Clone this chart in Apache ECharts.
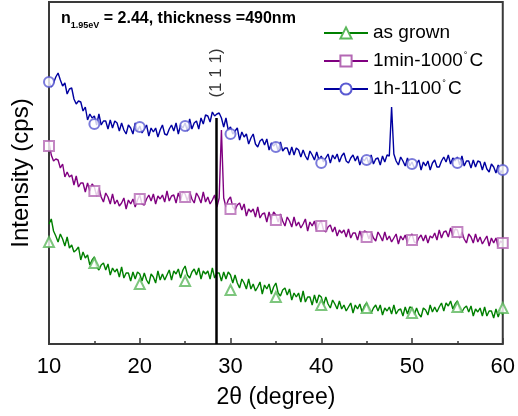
<!DOCTYPE html>
<html>
<head>
<meta charset="utf-8">
<script src="https://cdn.jsdelivr.net/npm/echarts@6/dist/echarts.min.js"></script>
<style>html,body{margin:0;padding:0;background:#fff}#c{width:518px;height:416px}</style>
</head>
<body>
<div id="c"></div>
<script>
// x grid: 10 to 60 degrees, step 0.25
const xStart = 10, xStep = 0.25;
const seriesNames = ['as grown', '1min-1000°C', '1h-1100°C'];
const xTicks = [10, 20, 30, 40, 50, 60];

const asGrown = [
120,125,113,108, 102,110,105,98, 107,96,99,92, 94,97,84,92, 86,89,79,84,
87,77,74,79, 81,74,80,69, 76,72,75,67, 77,66,71,71, 63,72,65,72,
70,63,71,64, 60,70,67,61, 73,64,70,64, 69,74,64,73, 70,75,66,74,
78,69,66,72, 75,69,76,65, 73,70,73,65, 76,66,71,71, 63,72,65,72,
69,61,69,61, 56,65,61,55, 65,55,60,53, 57,62,50,59, 55,60,50,57,
61,51,48,54, 56,49,55,44, 51,47,51,42, 53,42,47,47, 39,49,41,49,
47,39,47,40, 36,44,40,35, 43,35,39,33, 37,41,31,39, 35,40,32,38,
41,33,31,36, 39,33,39,29, 36,33,37,30, 39,30,34,35, 28,37,30,37,
36,29,36,30, 27,36,34,29, 39,32,37,32, 37,41,33,41, 38,43,35,40,
43,34,32,36, 38,32,38,28, 35,32,36,28, 37,28,33,33, 26,35,27,34,
29];

const min1000 = [
202,189,183,185, 184,176,180,167, 172,167,169,159, 168,157,161,161, 152,161,153,160,
157,148,156,147, 142,151,147,140, 150,140,144,138, 141,146,135,144, 140,145,137,144,
149,140,139,145, 149,143,150,140, 148,145,149,142, 153,143,148,149, 141,151,144,152,
150,143,152,145, 141,151,147,141, 152,142,147,140, 144,149,137,146, 214,146,137,144,
147,137,134,139, 141,134,140,128, 135,132,135,127, 137,126,130,131, 122,132,124,132,
129,122,130,123, 118,127,123,117, 127,118,122,116, 120,125,113,122, 118,123,113,120,
123,114,112,117, 119,112,117,108, 114,111,114,107, 115,106,111,111, 104,113,106,113,
112,105,112,106, 103,112,108,103, 112,104,108,102, 106,110,100,108, 104,109,101,107,
110,102,101,106, 109,103,109,101, 108,106,111,104, 114,106,112,113, 107,116,108,115,
114,106,112,105, 101,110,107,101, 110,102,107,100, 104,108,98,106, 101,106,97,103,
101];

const h1100 = [
262,257,261,267, 271,264,258,261, 250,255,256,245, 240,243,242,233, 237,224,230,226,
228,219,230,219, 223,223,215,224, 216,223,221,213, 221,214,210,219, 216,210,221,213,
218,211,215,219, 208,216,212,216, 207,214,219,210, 209,215,219,213, 221,210,219,216,
221,213,225,215, 221,223,215,226, 220,229,228,222, 232,228,230,231, 226,217,226,214,
217,210,213,216, 204,212,207,210, 200,206,210,200, 197,203,205,199, 205,194,201,198,
201,193,202,193, 196,196,189,197, 189,196,194,187, 194,188,184,193, 189,184,192,184,
188,182,186,190, 181,189,185,190, 182,188,191,183, 181,186,189,183, 188,179,186,183,
187,180,189,180, 185,186,179,188, 182,189,188,237, 190,183,179,187, 183,178,186,178,
182,176,180,184, 174,182,178,183, 174,181,184,177, 177,183,187,182, 189,180,186,183,
187,179,188,178, 183,183,176,184, 177,183,182,174, 182,175,172,180, 177,171,179,171,
174];

// marker positions (every 5 degrees)
const markerX = [10, 15, 20, 25, 30, 35, 40, 45, 50, 55, 60];
const asGrownMarks = [102, 81, 60, 63, 54, 47, 39, 36, 31, 37, 36];
const min1000Marks = [198, 153, 145, 147, 135, 124, 118, 107, 104, 112, 101];
const h1100Marks = [262, 220, 217, 218, 210, 197, 181, 184, 180, 181, 174];

// (111) reference line
const peak111X = 28.4;
const peak111Top = 226;
const peak111LabelY = 269;

const lineColors = ['#008000', '#800080', '#0000a0'];
const markColors = ['#5cb85c', '#b468b4', '#5a5ad2'];
const symbols = ['emptyTriangle', 'emptyRect', 'emptyCircle'];

function toPairs(arr) { return arr.map((v, i) => [xStart + i * xStep, v]); }
function markPairs(arr) { return arr.map((v, i) => [markerX[i], v]); }

const lines = [asGrown, min1000, h1100];
const marks = [asGrownMarks, min1000Marks, h1100Marks];
const series = [];
for (let k = 0; k < 3; k++) {
  series.push({
    name: seriesNames[k], type: 'line', data: toPairs(lines[k]),
    showSymbol: false, symbol: symbols[k], symbolSize: 10,
    lineStyle: { color: lineColors[k], width: 1.4 },
    itemStyle: { color: markColors[k] },
    animation: false, z: 2
  });
  series.push({
    type: 'scatter', data: markPairs(marks[k]), symbol: symbols[k], symbolSize: 10,
    itemStyle: { color: markColors[k], borderWidth: 1.3 }, animation: false, z: 3, silent: true
  });
}
series.push({
  type: 'scatter', data: [[peak111X, peak111LabelY]], symbolSize: 0, animation: false, silent: true,
  label: { show: true, formatter: '(1 1 1)', rotate: 90, position: 'inside', offset: [2, 0],
    fontFamily: 'Liberation Sans, Arial', fontSize: 17, color: '#000' },
  markLine: { silent: true, symbol: 'none', animation: false, label: { show: false },
    lineStyle: { color: '#000', width: 2.5, type: 'solid' },
    data: [[{ coord: [peak111X, 0] }, { coord: [peak111X, peak111Top] }]] },
  z: 5
});

const chart = echarts.init(document.getElementById('c'), null, { renderer: 'canvas' });
chart.setOption({
  animation: false,
  textStyle: { fontFamily: 'Liberation Sans, Arial' },
  grid: { left: 49, right: 15, top: 2, bottom: 72, show: true, borderColor: '#3a3a3a', borderWidth: 2 },
  title: {
    left: 56, top: 3,
    text: '{b|n}{s|1.95eV}{b| = 2.44, thickness =490nm}',
    textStyle: { rich: {
      b: { fontFamily: 'Liberation Sans, Arial', fontWeight: 'bold', fontSize: 16, color: '#000', height: 22 },
      s: { fontFamily: 'Liberation Sans, Arial', fontWeight: 'bold', fontSize: 9, color: '#000', verticalAlign: 'bottom', padding: [8, 0, 0, 0] }
    } }
  },
  legend: {
    data: seriesNames, orient: 'vertical', left: 318, top: 18,
    itemWidth: 44, itemHeight: 14, itemGap: 8,
    textStyle: { fontFamily: 'Liberation Sans, Arial', fontSize: 19, color: '#000', lineHeight: 20,
      rich: { d: { fontFamily: 'Liberation Sans, Arial', fontSize: 9, color: '#000', verticalAlign: 'top', padding: [0, 2, 10, 1] } } },
    formatter: function (n) { return n.replace('°C', '{d|°}C'); },
    selectedMode: false
  },
  xAxis: {
    type: 'value', min: 10, max: 60, interval: 10,
    axisLine: { show: false },
    axisTick: { show: true, inside: true, length: 6, lineStyle: { color: '#3a3a3a', width: 1.5 } },
    minorTick: { show: true, splitNumber: 2, length: 3, lineStyle: { color: '#3a3a3a', width: 1.5 } },
    splitLine: { show: false },
    axisLabel: { fontSize: 22, color: '#000', margin: 12, fontFamily: 'Liberation Sans, Arial' },
    name: '2θ (degree)', nameLocation: 'middle', nameGap: 42,
    nameTextStyle: { fontSize: 23, color: '#000', fontFamily: 'Liberation Sans, Arial' }
  },
  yAxis: {
    type: 'value', min: 0, max: 342,
    axisLine: { show: false }, axisTick: { show: false }, axisLabel: { show: false }, splitLine: { show: false },
    name: 'Intensity (cps)', nameLocation: 'middle', nameGap: 16,
    nameTextStyle: { fontSize: 24, color: '#000', fontFamily: 'Liberation Sans, Arial' }
  },
  series: series
});
</script>
</body>
</html>
